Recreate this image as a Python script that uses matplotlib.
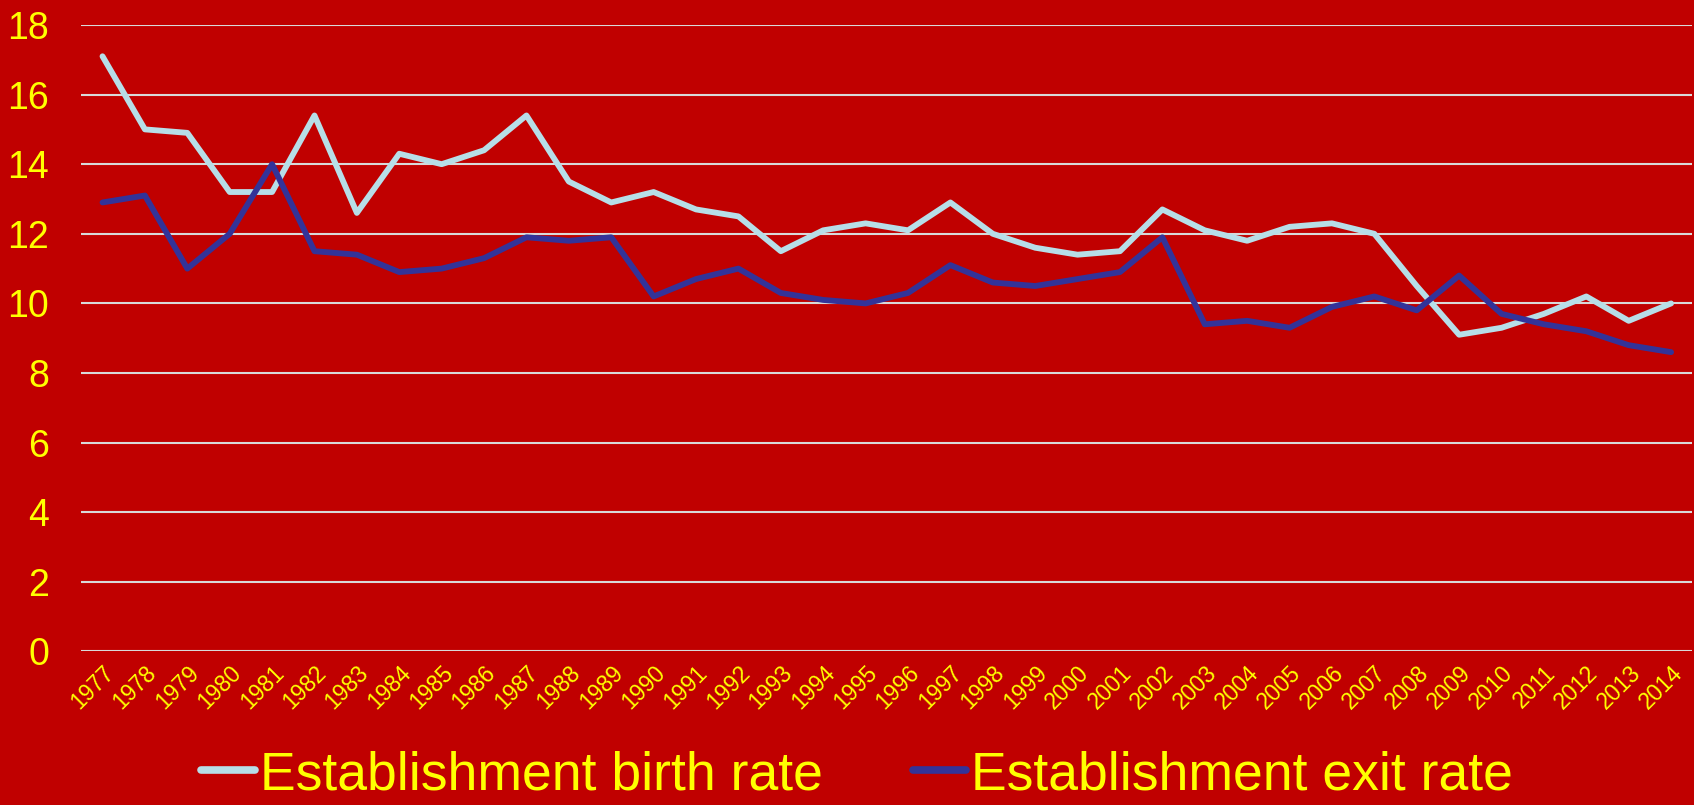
import matplotlib
matplotlib.use("Agg")
import matplotlib.pyplot as plt

plt.rcParams['font.family'] = ['Liberation Sans', 'DejaVu Sans']

years = [str(y) for y in range(1977, 2015)]

birth_rate = [17.1, 15.0, 14.9, 13.2, 13.2, 15.4, 12.6, 14.3, 14.0, 14.4,
              15.4, 13.5, 12.9, 13.2, 12.7, 12.5, 11.5, 12.1, 12.3, 12.1,
              12.9, 12.0, 11.6, 11.4, 11.5, 12.7, 12.1, 11.8, 12.2, 12.3,
              12.0, 10.5, 9.1, 9.3, 9.7, 10.2, 9.5, 10.0]

exit_rate = [12.9, 13.1, 11.0, 12.0, 14.0, 11.5, 11.4, 10.9, 11.0, 11.3,
             11.9, 11.8, 11.9, 10.2, 10.7, 11.0, 10.3, 10.1, 10.0, 10.3,
             11.1, 10.6, 10.5, 10.7, 10.9, 11.9, 9.4, 9.5, 9.3, 9.9,
             10.2, 9.8, 10.8, 9.7, 9.4, 9.2, 8.8, 8.6]

y_ticks = [0, 2, 4, 6, 8, 10, 12, 14, 16, 18]

bg = '#C00000'
txt = '#FFFF00'

fig = plt.figure(figsize=(16.94, 8.05), dpi=100, facecolor=bg)
ax = fig.add_axes([0.048, 0.1907, 0.951, 0.7783])
ax.set_facecolor(bg)

x = list(range(len(years)))
ax.plot(x, birth_rate, color='#B7DEE8', lw=4.2, solid_capstyle='round',
        solid_joinstyle='round', label='Establishment birth rate')
ax.plot(x, exit_rate, color='#333399', lw=4.2, solid_capstyle='round',
        solid_joinstyle='round', label='Establishment exit rate')

ax.set_xlim(-0.5, len(years) - 0.5)
ax.set_ylim(0, 18)
ax.set_yticks(y_ticks)
ax.set_yticklabels([str(v) for v in y_ticks], color=txt, fontsize=27)
ax.set_xticks(x)
ax.set_xticklabels(years, color=txt, fontsize=16.5, rotation=45,
                   ha='right', va='top', rotation_mode='anchor')
ax.tick_params(axis='y', length=0, pad=23)
ax.tick_params(axis='x', length=0, pad=7)
ax.grid(axis='y', color='#D9D9D9', lw=1.5)
ax.set_axisbelow(True)
for s in ax.spines.values():
    s.set_visible(False)

leg = fig.legend(loc='center', bbox_to_anchor=(0.506, 0.037), ncol=2,
                 frameon=False, fontsize=38.5, handlelength=1.0,
                 handletextpad=0.1, columnspacing=1.68)
for t in leg.get_texts():
    t.set_color(txt)
for h in leg.get_lines():
    h.set_linewidth(5.5)

fig.savefig('out.png', dpi=100, facecolor=bg)
